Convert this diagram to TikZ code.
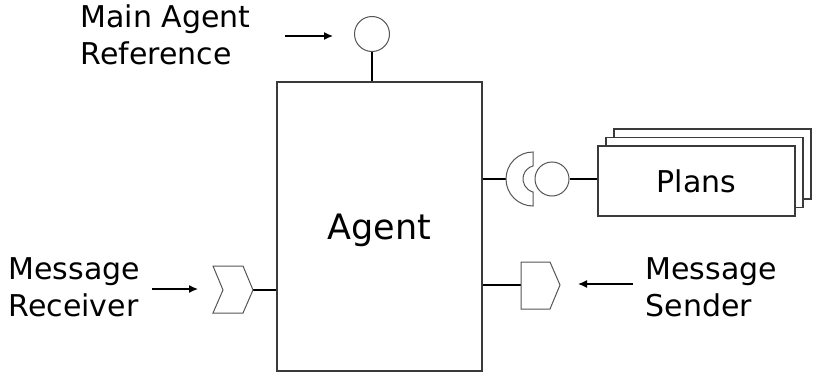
\documentclass[tikz,border=0pt]{standalone}
\usepackage{fontspec}
\setmainfont{DejaVu Sans}
\usepackage{tikz}
\usetikzlibrary{arrows.meta,calc,positioning}
\definecolor{boxgray}{HTML}{3A3A3A}
\definecolor{portgray}{HTML}{555555}

\begin{document}
\begin{tikzpicture}[x=1pt,y=-1pt,>={Latex[length=9pt,width=8pt]},line width=1.3pt,
    font=\fontsize{30}{37}\selectfont,
    lbl/.style={anchor=base west,align=left,inner sep=0pt},
    port/.style={draw=portgray,line width=1pt,fill=white},
    planbox/.style={draw=boxgray,line width=1.4pt,fill=white,minimum width=197pt,minimum height=70pt,inner sep=0pt}]
  \useasboundingbox (0,0) rectangle (814,372);
  % the agent
  \node[draw=boxgray,line width=1.6pt,minimum width=205pt,minimum height=289pt,inner sep=0pt,
    text depth=0pt,font=\fontsize{35}{42}\selectfont] (agent) at (379.5,226.5) {Agent};
  % main agent reference
  \node[port,circle,minimum size=35pt,inner sep=0pt] (ref) at (372,34) {};
  \draw (ref.south) -- (ref.south |- agent.north);
  \node[lbl] (reflbl) at (80,64) {Main Agent\\Reference};
  \coordinate (reftail) at (285,36);
  \coordinate (reftip) at (333,36);
  \draw[->] (reftail) -- (reftip);
  % plans
  \node[planbox] (plans3) at (712.5,164) {};
  \node[planbox] (plans2) at (704.5,172.5) {};
  \node[planbox] (plans) at (696.5,181) {Plans};
  \coordinate (sock) at (533,179);
  \node[port,circle,minimum size=34pt,inner sep=0pt] (ball) at (552,179) {};
  \draw (agent.east |- sock) -- ($(sock)+(-27,0)$);
  \draw[port] ($(sock)+(0,-27)$) arc[start angle=270,end angle=90,radius=27]
    -- ($(sock)+(0,13)$) arc[start angle=105,end angle=255,radius=13.5] -- cycle;
  \draw (ball.east) -- (ball.east -| plans.west);
  % message receiver
  \coordinate (recv) at (253,290);
  \draw (recv) -- (recv -| agent.west);
  \draw[port] (213,266) -- (243,266) -- (recv) -- (243,313) -- (213,313) -- (223,290) -- cycle;
  \node[lbl] (recvlbl) at (8,316) {Message\\Receiver};
  \coordinate (recvtail) at (152,289);
  \coordinate (recvtip) at (198,289);
  \draw[->] (recvtail) -- (recvtip);
  % message sender
  \coordinate (send) at (521,285);
  \draw (send -| agent.east) -- (send);
  \draw[port] (send) -- (521,262) -- (550,262) -- (560,285) -- (550,309) -- (521,309) -- cycle;
  \node[lbl] (sendlbl) at (645,316) {Message\\Sender};
  \coordinate (sendtail) at (633,284);
  \coordinate (sendtip) at (578,284);
  \draw[->] (sendtail) -- (sendtip);
\end{tikzpicture}
\end{document}
